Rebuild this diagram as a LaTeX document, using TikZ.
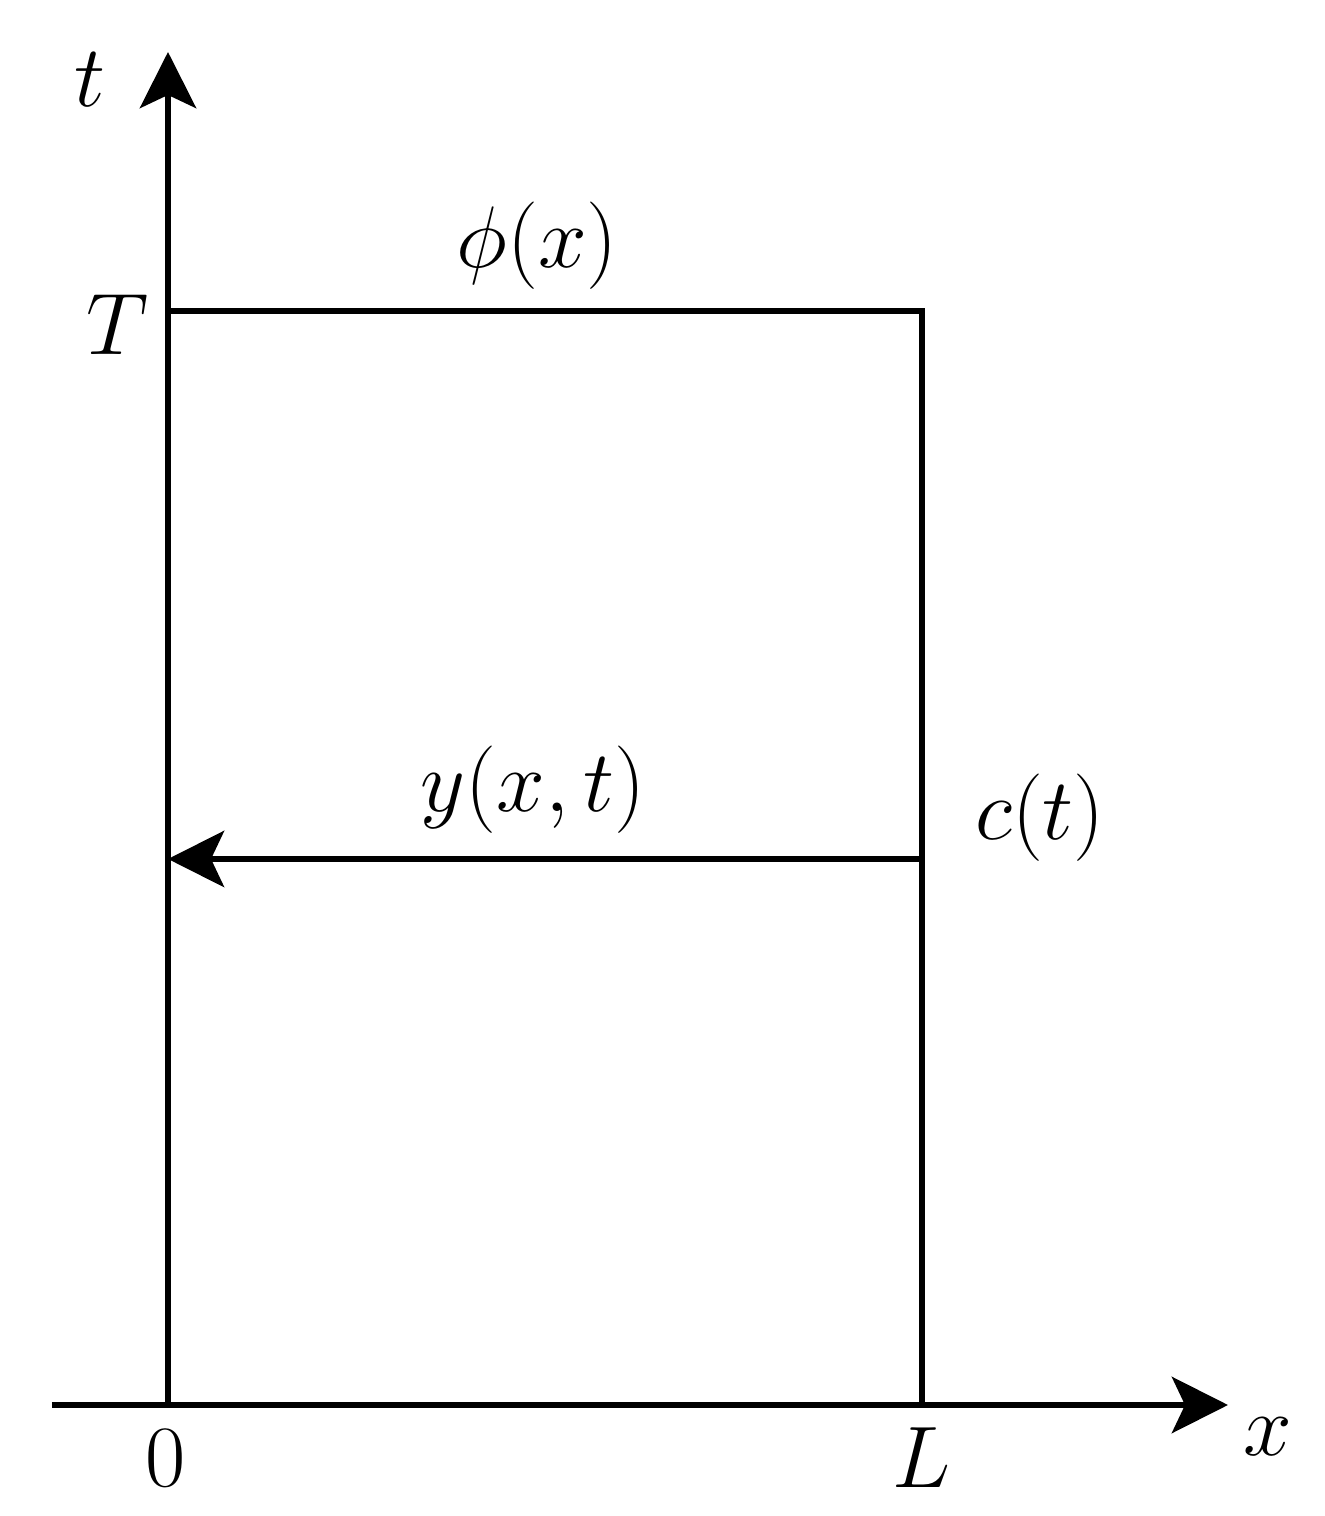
\documentclass[tikz,border=0pt]{standalone}
\usetikzlibrary{arrows.meta}
\usepackage{amsmath}
\tikzset{axis line/.style={line width=1.9pt, -{Stealth[length=5.6mm, width=5.6mm, inset=1.3mm]}}}
\tikzset{frame line/.style={line width=1.9pt}}
\tikzset{lbl/.style={font=\fontsize{24}{28}\selectfont, inner sep=0pt}}

\begin{document}
\begin{tikzpicture}
    % Bounding box
    \useasboundingbox (-1.68,-1.11) rectangle (11.56,14.05);

    % Globals
    \pgfmathsetmacro{\xMax}{7.54}
    \pgfmathsetmacro{\tMax}{10.94}
    \pgfmathsetmacro{\tMid}{5.46}

    % Axes
    \coordinate (O) at (0,0);
    \coordinate (X_W) at (-1.16,0);
    \coordinate (X_E) at (10.60,0);
    \coordinate (T_N) at (0,13.53);
    \draw[axis line] (X_W) -- (X_E);
    \draw[axis line] (O) -- (T_N);

    % Domain
    \coordinate (TOP_W) at (0,\tMax);
    \coordinate (TOP_E) at (\xMax,\tMax);
    \coordinate (BOT_E) at (\xMax,0);
    \draw[frame line] (TOP_W) -- (TOP_E) -- (BOT_E);

    % Characteristic
    \coordinate (MID_E) at (\xMax,\tMid);
    \coordinate (MID_W) at (0,\tMid);
    \draw[axis line] (MID_E) -- (MID_W);

    % Labels
    \node[lbl] (labelT) at (-0.78,13.25) {$t$};
    \node[lbl] (labelTT) at (-0.50,10.80) {$T$};
    \node[lbl] (labelPhi) at (3.69,11.59) {$\phi(x)$};
    \node[lbl] (labelY) at (3.65,6.15) {$y(x,t)$};
    \node[lbl] (labelC) at (8.72,5.87) {$c(t)$};
    \node[lbl] (labelZero) at (-0.02,-0.53) {$0$};
    \node[lbl] (labelL) at (7.54,-0.53) {$L$};
    \node[lbl] (labelX) at (11.00,-0.32) {$x$};

\end{tikzpicture}
\end{document}
